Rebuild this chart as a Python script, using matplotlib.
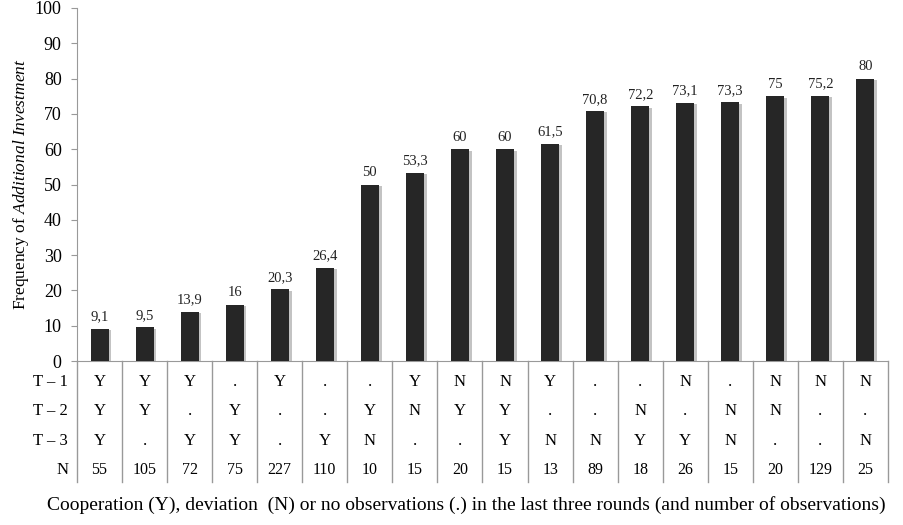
import matplotlib
matplotlib.use("Agg")
import matplotlib.pyplot as plt
import matplotlib.patheffects as pe
from matplotlib.transforms import blended_transform_factory

# data
freq = [9.1, 9.5, 13.9, 16, 20.3, 26.4, 50, 53.3, 60, 60, 61.5,
        70.8, 72.2, 73.1, 73.3, 75, 75.2, 80]
t1 = ["Y", "Y", "Y", ".", "Y", ".", ".", "Y", "N", "N", "Y",
      ".", ".", "N", ".", "N", "N", "N"]
t2 = ["Y", "Y", ".", "Y", ".", ".", "Y", "N", "Y", "Y", ".",
      ".", "N", ".", "N", "N", ".", "."]
t3 = ["Y", ".", "Y", "Y", ".", "Y", "N", ".", ".", "Y", "N",
      "N", "Y", "Y", "N", ".", ".", "N"]
n_obs = [55, 105, 72, 75, 227, 110, 10, 15, 20, 15, 13,
         89, 18, 26, 15, 20, 129, 25]
row_labels = ["T – 1", "T – 2", "T – 3", "N"]

plt.rcParams['font.family'] = ['Liberation Serif', 'DejaVu Serif']
plt.rcParams['mathtext.fontset'] = 'custom'
plt.rcParams['mathtext.rm'] = 'Liberation Serif'
plt.rcParams['mathtext.it'] = 'Liberation Serif:italic'

fig = plt.figure(figsize=(9.04, 5.25), dpi=100)
ax = fig.add_axes([77 / 904, 1 - 361 / 525, 811 / 904, 353 / 525])

x = list(range(len(freq)))
bars = ax.bar(x, freq, width=0.4, color="#262626", zorder=3)
for b in bars:
    b.set_path_effects([pe.SimplePatchShadow(offset=(2, -1), shadow_rgbFace="#888888", alpha=0.5),
                        pe.Normal()])

for xi, v in zip(x, freq):
    lab = f"{v:g}".replace(".", ",")
    ax.text(xi, v + 1.5, lab, ha="center", va="bottom", fontsize=10.5, color="#222222")

ax.set_xlim(-0.5, len(freq) - 0.5)
ax.set_ylim(0, 100)
ax.set_yticks(range(0, 101, 10))
ax.tick_params(axis="y", labelsize=13, length=4, color="#999999", pad=7)
ax.set_xticks([])
for s in ["top", "right"]:
    ax.spines[s].set_visible(False)
ax.spines["left"].set_color("#999999")
ax.spines["bottom"].set_color("#999999")

ax.set_ylabel(r"Frequency of $\mathit{Additional\ Investment}$", fontsize=12.5, labelpad=3)

# table below the axis
trans = blended_transform_factory(ax.transData, ax.transAxes)
row_y = [-0.0595, -0.1416, -0.2266, -0.3088]
rows = [t1, t2, t3, [str(n) for n in n_obs]]
for ry, lab, vals in zip(row_y, row_labels, rows):
    ax.text(-0.011, ry, lab, transform=ax.transAxes, ha="right", va="center",
            fontsize=12, clip_on=False)
    fs = 11.5 if lab == "N" else 12
    for xi, val in zip(x, vals):
        ax.text(xi, ry, val, transform=trans, ha="center", va="center",
                fontsize=fs, clip_on=False)

for i in range(len(freq) + 1):
    ax.plot([i - 0.5, i - 0.5], [0, -0.343], transform=trans, color="#999999",
            lw=1, clip_on=False)

main = fig.text(47 / 904, 1 - 505 / 525, "Cooperation (Y), deviation  (N) or no observations (.) in the last three rounds",
                ha="left", va="center", fontsize=14)
fig.canvas.draw()
ax.annotate(" (and number of observations)", xy=(1, 0), xycoords=main,
            ha="left", va="bottom", fontsize=14)

fig.savefig("out.png", dpi=100)
